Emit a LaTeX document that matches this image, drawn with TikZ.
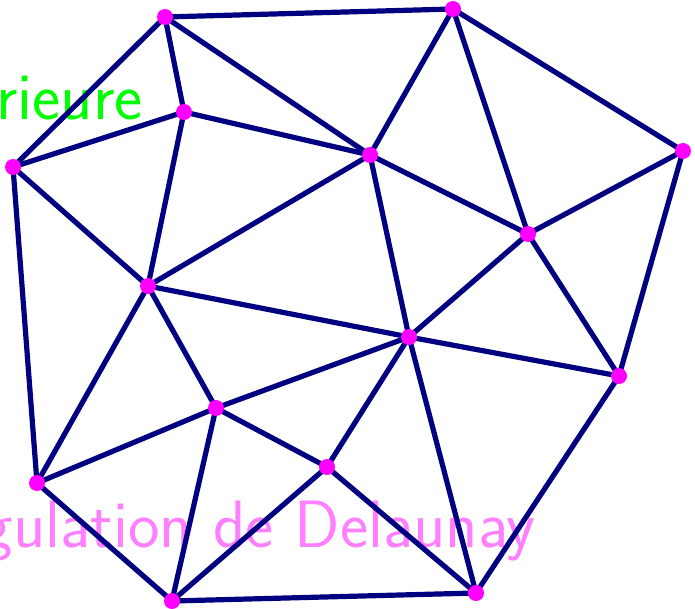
\documentclass[tikz,border=0pt]{standalone}
\usepackage{tikz}
\usetikzlibrary{positioning}
\definecolor{edgeblue}{RGB}{0,0,128}
\definecolor{ptmag}{RGB}{255,0,255}
\definecolor{lblgreen}{RGB}{0,255,0}
\definecolor{lblpink}{RGB}{255,128,255}
\tikzset{
  edge/.style={draw=edgeblue,line width=2.6pt,line cap=round},
  ptdot/.style={circle,fill=ptmag,inner sep=0pt,minimum size=8pt},
  biglbl/.style={font=\sffamily\fontsize{33.5}{40}\selectfont,inner sep=0pt}
}
\begin{document}
\begin{tikzpicture}[x=0.5pt,y=-0.5pt]
  \useasboundingbox (0,0) rectangle (695,609);
  %% labels (behind the mesh)
  \node[biglbl,text=lblpink,anchor=base east] (lDel) at (536,547) {Triangulation de Delaunay};
  \node[biglbl,text=lblgreen,anchor=base east] (lExt) at (143,120) {Frontière extérieure};
  %% sites
  \coordinate (p1) at (165,17);
  \coordinate (p2) at (453,9);
  \coordinate (p3) at (184,112);
  \coordinate (p4) at (13,167);
  \coordinate (p5) at (370,155);
  \coordinate (p6) at (683,151);
  \coordinate (p7) at (528,234);
  \coordinate (p8) at (148,286);
  \coordinate (p9) at (409,337);
  \coordinate (p10) at (619,376);
  \coordinate (p11) at (216,408);
  \coordinate (p12) at (327,467);
  \coordinate (p13) at (37,483);
  \coordinate (p14) at (172,601);
  \coordinate (p15) at (476,593);
  %% triangles
  \foreach \a/\b in {p1/p2,p1/p4,p1/p3,p1/p5,p2/p5,p2/p7,p2/p6,p3/p4,p3/p5,p3/p8,
                     p4/p8,p4/p13,p5/p8,p5/p7,p5/p9,p6/p7,p6/p10,p7/p9,p7/p10,p8/p9,
                     p8/p11,p8/p13,p9/p10,p9/p11,p9/p12,p9/p15,p10/p15,p11/p12,p11/p13,
                     p11/p14,p12/p14,p12/p15,p13/p14,p14/p15}
    \draw[edge] (\a) -- (\b);
  \foreach \i in {1,...,15}
    \node[ptdot] (d\i) at (p\i) {};
\end{tikzpicture}
\end{document}
